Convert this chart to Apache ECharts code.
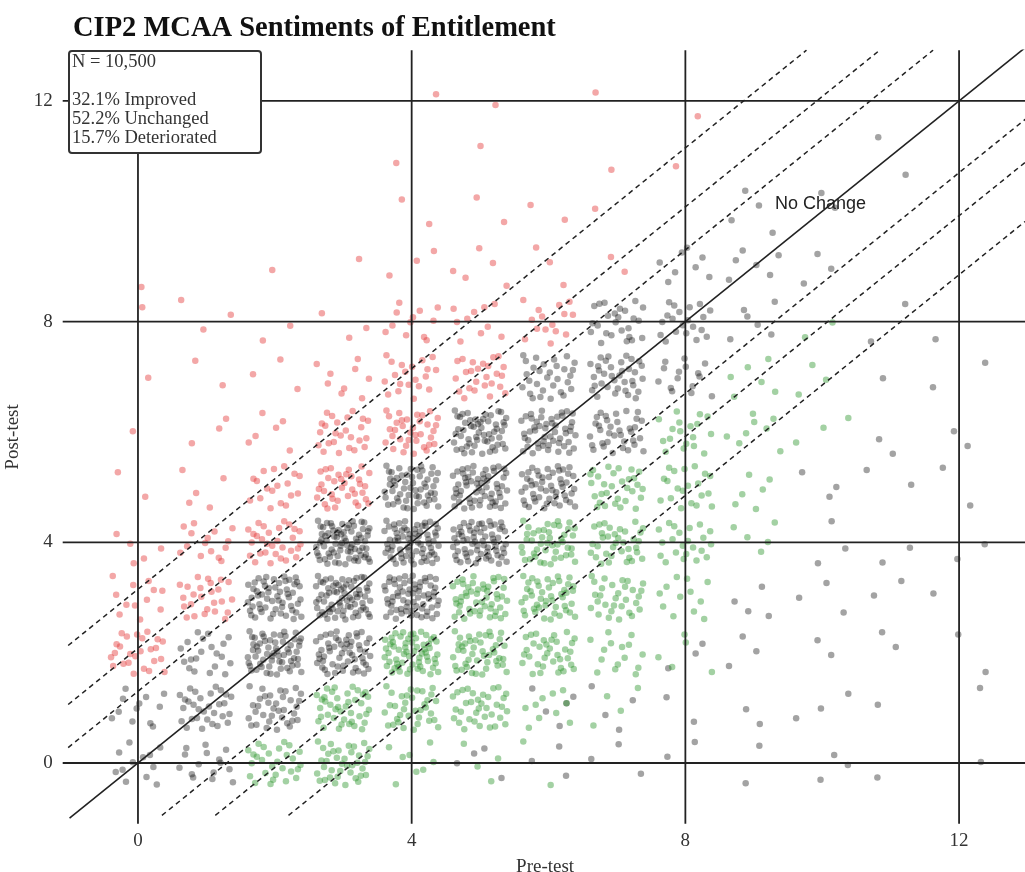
<!DOCTYPE html>
<html>
<head>
<meta charset="utf-8">
<title>CIP2 MCAA Sentiments of Entitlement</title>
<script src="https://cdn.jsdelivr.net/npm/echarts@6/dist/echarts.min.js"></script>
<style>
  html, body { margin: 0; padding: 0; background: #fff; }
  #chart { width: 1025px; height: 872px; }
</style>
</head>
<body>
<div id="chart"></div>
<script>
// ---- data -------------------------------------------------------------
const titleText = 'CIP2 MCAA Sentiments of Entitlement';
const axisTicks = [0, 4, 8, 12];
const sampleSize = 10500;
const outcomeLabels = ['Improved', 'Unchanged', 'Deteriorated'];
const outcomePercents = [32.1, 52.2, 15.7];
// reliable-change bands either side of the no-change line (score points)
const bandOffsets = [1.3, 2.08, 3.15];

// [pre-test score, post-test score, respondents plotted in that cell]
const improvedCells = [
  [2, 0, 28], [3, 0, 38], [4, 0, 8], [5, 0, 4], [6, 0, 2],
  [3, 1, 40], [4, 1, 35], [5, 1, 35], [6, 1, 10], [7, 1, 4],
  [4, 2, 60], [5, 2, 45], [6, 2, 35], [7, 2, 15], [8, 2, 5],
  [5, 3, 50], [6, 3, 45], [7, 3, 30], [8, 3, 12],
  [6, 4, 45], [7, 4, 35], [8, 4, 22], [9, 4, 5],
  [7, 5, 30], [8, 5, 20], [9, 5, 6],
  [8, 6, 18], [9, 6, 8], [10, 6, 3],
  [9, 7, 6], [10, 7, 3], [10, 8, 2]
];
const unchangedCells = [
  [0, 0, 12], [1, 0, 15], [0, 1, 12], [1, 1, 30], [2, 1, 35],
  [1, 2, 20], [2, 2, 60], [3, 2, 55],
  [2, 3, 55], [3, 3, 70], [4, 3, 65],
  [3, 4, 75], [4, 4, 70], [5, 4, 65],
  [4, 5, 55], [5, 5, 60], [6, 5, 50],
  [5, 6, 55], [6, 6, 50], [7, 6, 35],
  [6, 7, 30], [7, 7, 35], [8, 7, 15],
  [7, 8, 25], [8, 8, 20], [9, 8, 6],
  [8, 9, 8], [9, 9, 6], [10, 9, 3],
  [9, 10, 4], [10, 10, 2], [11, 11, 2],
  [5, 0, 4], [6, 0, 3], [7, 0, 3], [8, 0, 2], [9, 0, 2], [10, 0, 3], [11, 0, 1], [12, 0, 1],
  [6, 1, 5], [7, 1, 4], [8, 1, 2], [9, 1, 2], [10, 1, 3], [11, 1, 1], [12, 1, 1],
  [8, 2, 3], [9, 2, 3], [10, 2, 2], [11, 2, 2], [12, 2, 2],
  [9, 3, 4], [10, 3, 3], [11, 3, 2], [12, 3, 1],
  [10, 4, 3], [11, 4, 2], [12, 4, 2],
  [10, 5, 3], [11, 5, 2], [12, 5, 2],
  [11, 6, 2], [12, 6, 2], [11, 7, 1], [12, 7, 2], [11, 8, 2], [12, 8, 1]
];
const deterioratedCells = [
  [0, 2, 25], [0, 3, 12], [1, 3, 25],
  [0, 4, 5], [1, 4, 15], [2, 4, 30],
  [0, 5, 2], [1, 5, 5], [2, 5, 18], [3, 5, 35],
  [0, 6, 1], [1, 6, 3], [2, 6, 6], [3, 6, 25], [4, 6, 35],
  [0, 7, 1], [1, 7, 2], [2, 7, 3], [3, 7, 9], [4, 7, 20], [5, 7, 25],
  [0, 8, 1], [1, 8, 3], [2, 8, 2], [3, 8, 3], [4, 8, 12], [5, 8, 10], [6, 8, 15],
  [0, 9, 1], [2, 9, 1], [3, 9, 1], [4, 9, 3], [5, 9, 5], [6, 9, 3], [7, 9, 2],
  [4, 10, 2], [5, 10, 2], [6, 10, 2], [7, 10, 1],
  [4, 11, 1], [5, 11, 1], [7, 11, 1], [8, 11, 1],
  [4, 12, 1], [5, 12, 1], [7, 12, 1], [8, 12, 1]
];

// ---- layout helpers ---------------------------------------------------
const X_MIN = -1.1, X_MAX = 13, Y_MIN = -1.1, Y_MAX = 12.92;
const JITTER = 0.4;

// radical inverse in the given base (Halton sequence term)
function halton(i, base) {
  let f = 1, r = 0;
  while (i > 0) { f /= base; r += f * (i % base); i = Math.floor(i / base); }
  return r;
}

// Integer scores overlap, so each cell's respondents are spread over a
// small square around the score pair (a Halton layout, offset per cell).
function spreadCells(cells, phase) {
  const pts = [];
  cells.forEach(([pre, post, n], c) => {
    const start = 7 + ((c * 37 + phase * 11) % 97);
    for (let k = 0; k < n; k++) {
      const u = halton(start + k, 2);
      const v = halton(start + k, 3);
      pts.push([pre + (u - 0.5) * 2 * JITTER, post + (v - 0.5) * 2 * JITTER]);
    }
  });
  return pts;
}

const serif = '"Liberation Serif", "Times New Roman", serif';
const ink = '#222';

function segment(name, a, b, style) {
  return {
    type: 'line', name, data: [a, b], showSymbol: false, symbol: 'none',
    silent: true, z: 5, clip: true,
    lineStyle: Object.assign({ color: ink, width: 1.8 }, style)
  };
}

const lineSeries = [];
axisTicks.forEach(v => lineSeries.push(segment('v' + v, [v, Y_MIN], [v, Y_MAX], {})));
axisTicks.forEach(h => lineSeries.push(segment('h' + h, [X_MIN, h], [X_MAX, h], {})));
lineSeries.push(segment('noChange', [-1, -1], [13, 13], { width: 1.6 }));
bandOffsets.forEach(off => {
  lineSeries.push(segment('up' + off, [-1.02, -1.02 + off], [Y_MAX - off, Y_MAX], { width: 1.5, type: [5, 4] }));
  lineSeries.push(segment('dn' + off, [-0.95 + off, -0.95], [X_MAX, X_MAX - off], { width: 1.5, type: [5, 4] }));
});

function pointSeries(name, cells, color, phase) {
  return {
    type: 'scatter', name, data: spreadCells(cells, phase),
    symbolSize: 6.5, z: 3, silent: true,
    itemStyle: { color, borderWidth: 0 }
  };
}

const chart = echarts.init(document.getElementById('chart'), null, { renderer: 'canvas' });

const option = {
  backgroundColor: '#fff',
  animation: false,
  title: {
    text: titleText, left: 68, top: 9,
    textStyle: { fontFamily: serif, fontWeight: 'bold', fontSize: 28.5, color: '#111' }
  },
  grid: { left: 62.7, right: -2.5, top: 50.2, bottom: 48.3, containLabel: false, outerBoundsMode: 'none' },
  xAxis: {
    type: 'value', min: X_MIN, max: X_MAX,
    axisLine: { show: false }, axisTick: { show: false }, splitLine: { show: false },
    axisLabel: { customValues: axisTicks, fontFamily: serif, fontSize: 19, color: '#333', margin: 8 },
    name: 'Pre-test', nameLocation: 'middle', nameGap: 34,
    nameTextStyle: { fontFamily: serif, fontSize: 19, color: '#333' }
  },
  yAxis: {
    type: 'value', min: Y_MIN, max: Y_MAX,
    axisLine: { show: false }, axisTick: { show: false }, splitLine: { show: false },
    axisLabel: { customValues: axisTicks, fontFamily: serif, fontSize: 19, color: '#333', margin: 10 },
    name: 'Post-test', nameLocation: 'middle', nameGap: 38,
    nameTextStyle: { fontFamily: serif, fontSize: 19, color: '#333' }
  },
  series: [
    pointSeries(outcomeLabels[1], unchangedCells, 'rgba(0,0,0,0.45)', 1),
    pointSeries(outcomeLabels[0], improvedCells, 'rgba(45,150,45,0.55)', 2),
    pointSeries(outcomeLabels[2], deterioratedCells, 'rgba(228,55,55,0.55)', 3)
  ].concat(lineSeries)
};
chart.setOption(option);

// summary box and the label of the no-change line
const boxX = 69, boxY = 51, lineH = 19;
const summaryLines = ['N = ' + sampleSize.toLocaleString('en-US'), '']
  .concat(outcomeLabels.map((l, i) => outcomePercents[i].toFixed(1) + '% ' + l));
const noChangeAt = chart.convertToPixel({ gridIndex: 0 }, [9.31, 10.13]);

chart.setOption({
  graphic: [
    {
      type: 'rect', z: 100,
      shape: { x: boxX, y: boxY, width: 192, height: 102, r: 3 },
      style: { fill: '#fff', stroke: '#333', lineWidth: 2 }
    },
    ...summaryLines.map((t, i) => ({
      type: 'text', z: 101,
      style: {
        text: t, x: boxX + 3, y: boxY + 11 + i * lineH,
        verticalAlign: 'middle', font: '18.5px ' + serif, fill: '#333'
      }
    })),
    {
      type: 'text', z: 101,
      style: {
        text: 'No Change', x: noChangeAt[0], y: noChangeAt[1],
        verticalAlign: 'middle', font: '18px "Liberation Sans", Arial, sans-serif', fill: '#222'
      }
    }
  ]
});
</script>
</body>
</html>
